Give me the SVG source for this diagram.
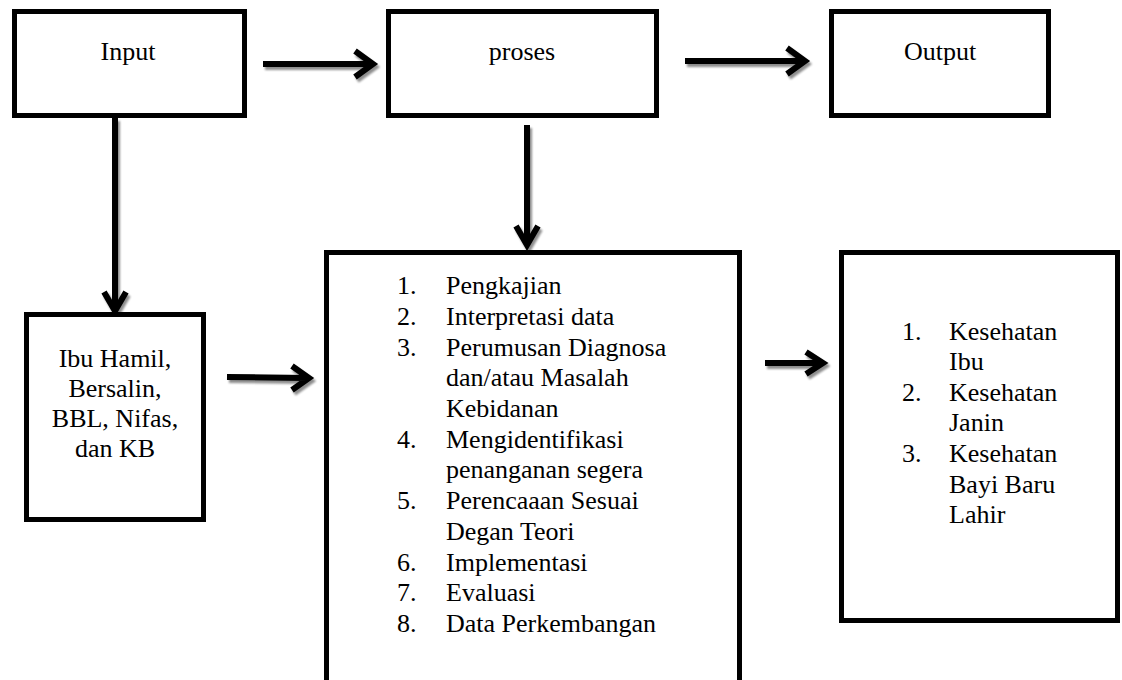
<svg xmlns="http://www.w3.org/2000/svg" width="1122" height="680" viewBox="0 0 1122 680">
<defs>
<style>
.box{fill:#fff;stroke:#000;stroke-width:5}
.t{font-family:"Liberation Serif","Times New Roman",serif;font-size:26px;fill:#000}
.c{text-anchor:middle}
.arr{fill:none;stroke:#000;stroke-width:6;stroke-linejoin:miter;stroke-linecap:butt}
</style>
<filter id="sh" x="-20%" y="-40%" width="140%" height="180%">
<feGaussianBlur in="SourceAlpha" stdDeviation="1"/>
<feOffset dx="2" dy="3" result="o"/>
<feComponentTransfer><feFuncA type="linear" slope="0.45"/></feComponentTransfer>
<feMerge><feMergeNode/><feMergeNode in="SourceGraphic"/></feMerge>
</filter>
</defs>
<rect width="1122" height="680" fill="#fff"/>
<g id="connectors" filter="url(#sh)">
<path class="arr" d="M263 64H372M355 51L373 64L355 77"/>
<path class="arr" d="M685 61H804M787 48L805 61L787 74"/>
<path class="arr" d="M115 118V310M104 292L115 311L126 292"/>
<path class="arr" d="M527 125V244M516 226L527 245L538 226"/>
<path class="arr" d="M227 377L308 378M292 366L309 378L292 390"/>
<path class="arr" d="M765 363H822M806 352L823 363L806 374"/>
</g>
<g id="input"><rect class="box" x="14.5" y="11.5" width="230" height="104"/><text class="t c" x="128" y="60">Input</text></g>
<g id="proses"><rect class="box" x="388.5" y="11.5" width="268" height="104"/><text class="t c" x="522" y="60">proses</text></g>
<g id="output"><rect class="box" x="831.5" y="11.5" width="217" height="104"/><text class="t c" x="940" y="60">Output</text></g>
<g id="sasaran"><rect class="box" x="26.5" y="314.5" width="177" height="205"/>
<text class="t c" x="115" y="367">Ibu Hamil,</text>
<text class="t c" x="115" y="397">Bersalin,</text>
<text class="t c" x="115" y="427">BBL, Nifas,</text>
<text class="t c" x="115" y="457">dan KB</text></g>
<g id="langkah"><rect class="box" x="326.5" y="252.5" width="413" height="460"/>
<g class="t">
<text x="397" y="294">1.</text><text x="446" y="294">Pengkajian</text>
<text x="397" y="325">2.</text><text x="446" y="325">Interpretasi data</text>
<text x="397" y="356">3.</text><text x="446" y="356">Perumusan Diagnosa</text>
<text x="446" y="386">dan/atau Masalah</text>
<text x="446" y="417">Kebidanan</text>
<text x="397" y="448">4.</text><text x="446" y="448">Mengidentifikasi</text>
<text x="446" y="478">penanganan segera</text>
<text x="397" y="509">5.</text><text x="446" y="509">Perencaaan Sesuai</text>
<text x="446" y="540">Degan Teori</text>
<text x="397" y="571">6.</text><text x="446" y="571">Implementasi</text>
<text x="397" y="601">7.</text><text x="446" y="601">Evaluasi</text>
<text x="397" y="632">8.</text><text x="446" y="632">Data Perkembangan</text>
</g></g>
<g id="hasil"><rect class="box" x="841.5" y="252.5" width="276" height="368"/>
<g class="t">
<text x="902" y="340">1.</text><text x="949" y="340">Kesehatan</text>
<text x="949" y="370">Ibu</text>
<text x="902" y="401">2.</text><text x="949" y="401">Kesehatan</text>
<text x="949" y="431">Janin</text>
<text x="902" y="462">3.</text><text x="949" y="462">Kesehatan</text>
<text x="949" y="493">Bayi Baru</text>
<text x="949" y="523">Lahir</text>
</g></g>
</svg>
